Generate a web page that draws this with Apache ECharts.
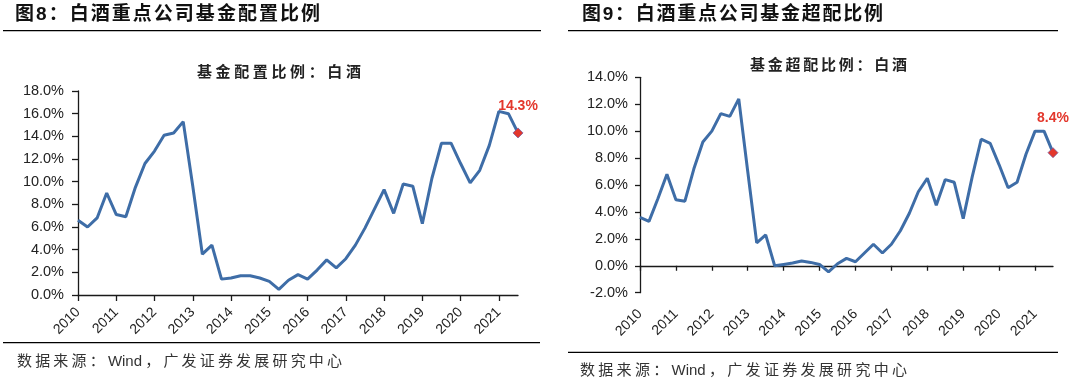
<!DOCTYPE html>
<html>
<head>
<meta charset="utf-8">
<script src="https://cdn.jsdelivr.net/npm/echarts@6/dist/echarts.min.js"></script>
<style>
html,body{margin:0;padding:0;background:#fff;}
#c{width:1080px;height:385px;}
</style>
</head>
<body>
<div id="c"></div>
<script>
// ---- data ----
const years = ['2010','2011','2012','2013','2014','2015','2016','2017','2018','2019','2020','2021'];
const quarterNames = ['Q1','Q2','Q3','Q4'];
const quarters = [];
years.forEach(y => quarterNames.forEach(q => quarters.push(y + q)));
quarters.length = 47; // 2010Q1 .. 2021Q3

// 基金配置比例：白酒 (%)
const allocation = [6.6,6.0,6.8,9.0,7.1,6.9,9.5,11.6,12.7,14.1,14.3,15.3,9.6,3.6,4.4,1.4,1.5,1.7,1.7,1.5,1.2,0.5,1.3,1.8,1.4,2.2,3.1,2.4,3.2,4.4,5.9,7.6,9.3,7.2,9.8,9.6,6.3,10.3,13.4,13.4,11.6,9.9,11.0,13.2,16.2,16.0,14.3];
// 基金超配比例：白酒 (%)
const overweight = [3.6,3.3,5.0,6.8,4.9,4.8,7.2,9.2,10.0,11.3,11.1,12.4,7.0,1.7,2.3,0.0,0.1,0.2,0.35,0.25,0.1,-0.45,0.15,0.55,0.3,0.95,1.6,0.95,1.6,2.6,3.9,5.5,6.5,4.5,6.4,6.2,3.5,6.6,9.4,9.1,7.5,5.8,6.2,8.3,10.0,10.0,8.4];

const leftTicks = [0,18,2];
const rightTicks = [-2,14,2];

// ---- style ----
const FAM = "'Liberation Sans','Noto Sans CJK SC',sans-serif";
const LINE_C = '#3E6DA7';
const RED = '#E3372C';

function spaced(text, left, cy, size, weight, width, color) {
  const ctx = document.createElement('canvas').getContext('2d');
  const font = weight + ' ' + size + 'px ' + FAM;
  ctx.font = font;
  const tokens = text.match(/[A-Za-z0-9.]+|./g);
  const ws = tokens.map(t => ctx.measureText(t).width);
  const nat = ws.reduce((a, b) => a + b, 0);
  const gap = tokens.length > 1 ? (width - nat) / (tokens.length - 1) : 0;
  let x = left;
  return tokens.map((t, i) => {
    const el = {type: 'text', x: x, y: cy, silent: true,
      style: {text: t, font: font, fill: color, textVerticalAlign: 'middle', textAlign: 'left'}};
    x += ws[i] + gap;
    return el;
  });
}
function hline(x1, x2, y) {
  return {type: 'line', silent: true, shape: {x1: x1, y1: y, x2: x2, y2: y}, style: {stroke: '#000', lineWidth: 1.3}};
}

const q4 = (i) => i % 4 === 0;
const axisLineStyle = {color: '#1a1a1a', width: 1.3};

function seriesData(arr, dist) {
  return arr.map((v, i) => i === arr.length - 1 ? {
    value: v, symbol: 'diamond', symbolSize: 10,
    itemStyle: {color: RED, borderColor: '#7a5a9a', borderWidth: 0.8},
    label: {show: true, position: 'top', distance: dist, formatter: v.toFixed(1) + '%', color: RED,
      fontFamily: FAM, fontSize: 14, fontWeight: 'bold'}
  } : v);
}

const chart = echarts.init(document.getElementById('c'), null, {renderer: 'canvas'});
const option = {
  animation: false,
  backgroundColor: '#fff',
  grid: [
    {left: 78, top: 91, width: 440, height: 204},
    {left: 640, top: 77.3, width: 413, height: 215.4}
  ],
  xAxis: [
    {type: 'category', gridIndex: 0, data: quarters, boundaryGap: false, position: 'bottom',
      axisLine: {lineStyle: axisLineStyle},
      axisTick: {interval: q4, length: 6, lineStyle: axisLineStyle},
      axisLabel: {interval: q4, formatter: v => v.slice(0, 4), rotate: 45, margin: 15,
        fontFamily: FAM, fontSize: 14, color: '#222'},
      splitLine: {show: false}},
    {type: 'category', gridIndex: 1, data: quarters, boundaryGap: false, position: 'bottom',
      axisLine: {onZero: true, lineStyle: axisLineStyle},
      axisTick: {interval: q4, length: 5, lineStyle: axisLineStyle},
      axisLabel: {show: false},
      splitLine: {show: false}},
    {type: 'category', gridIndex: 1, data: quarters, boundaryGap: false, position: 'bottom',
      axisLine: {show: false, onZero: false},
      axisTick: {show: false},
      axisLabel: {interval: q4, formatter: v => v.slice(0, 4), rotate: 45, margin: 19,
        fontFamily: FAM, fontSize: 14, color: '#222'},
      splitLine: {show: false}}
  ],
  yAxis: [
    {type: 'value', gridIndex: 0, min: leftTicks[0], max: leftTicks[1], interval: leftTicks[2],
      axisLine: {show: true, lineStyle: axisLineStyle},
      axisTick: {show: true, length: 6, lineStyle: axisLineStyle},
      axisLabel: {formatter: v => v.toFixed(1) + '%', margin: 14, fontFamily: FAM, fontSize: 14.5, color: '#222'},
      splitLine: {show: false}},
    {type: 'value', gridIndex: 1, min: rightTicks[0], max: rightTicks[1], interval: rightTicks[2],
      axisLine: {show: true, onZero: false, lineStyle: axisLineStyle},
      axisTick: {show: true, length: 5, lineStyle: axisLineStyle},
      axisLabel: {formatter: v => v.toFixed(1) + '%', margin: 12, fontFamily: FAM, fontSize: 14.5, color: '#222'},
      splitLine: {show: false}}
  ],
  series: [
    {type: 'line', xAxisIndex: 0, yAxisIndex: 0, data: seriesData(allocation, 14),
      showSymbol: true, showAllSymbol: true, symbol: 'none', lineStyle: {color: LINE_C, width: 3}, itemStyle: {color: LINE_C}},
    {type: 'line', xAxisIndex: 1, yAxisIndex: 1, data: seriesData(overweight, 22),
      showSymbol: true, showAllSymbol: true, symbol: 'none', lineStyle: {color: LINE_C, width: 3}, itemStyle: {color: LINE_C}}
  ],
  graphic: [].concat(
    spaced('图8：白酒重点公司基金配置比例', 15, 15, 19, 'bold', 305, '#111'),
    spaced('基金配置比例：白酒', 197, 73, 15, 'bold', 164, '#222'),
    spaced('数据来源：Wind，广发证券发展研究中心', 17, 362, 15, 'normal', 325, '#333'),
    spaced('图9：白酒重点公司基金超配比例', 582, 15, 19, 'bold', 301, '#111'),
    spaced('基金超配比例：白酒', 750, 66, 15, 'bold', 157, '#222'),
    spaced('数据来源：Wind，广发证券发展研究中心', 580, 371, 15, 'normal', 327, '#333'),
    [hline(3, 541, 30.7), hline(3, 540, 342.7), hline(568, 1058, 30.7), hline(568, 1058, 352.3)]
  )
};
chart.setOption(option);
</script>
</body>
</html>
